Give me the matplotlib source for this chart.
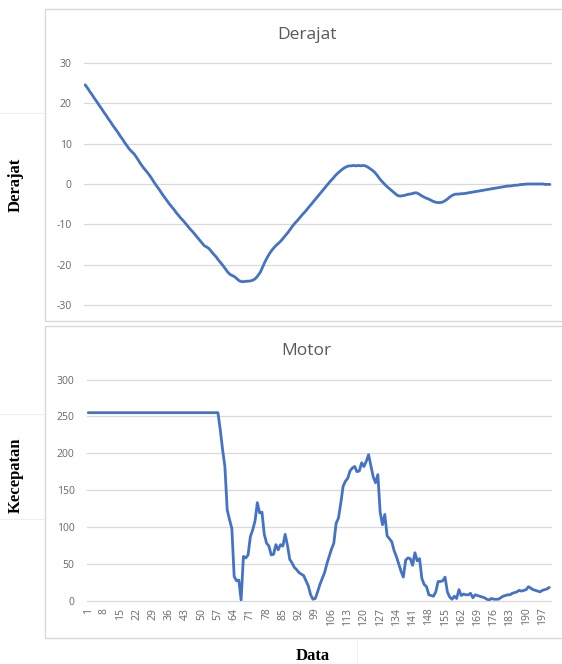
import matplotlib
matplotlib.use("Agg")
import matplotlib.pyplot as plt
from matplotlib.patches import Rectangle
from matplotlib.lines import Line2D

plt.rcParams['axes.unicode_minus'] = False

# ---------------- data ----------------
derajat = [
    24.6, 23.8, 22.9, 22.1, 21.2, 20.4, 19.5, 18.7, 17.8, 17.0,
    16.1, 15.3, 14.4, 13.6, 12.8, 11.9, 11.1, 10.2, 9.4, 8.6,
    8.0, 7.4, 6.6, 5.7, 4.8, 4.0, 3.3, 2.6, 1.8, 0.9,
    0.0, -0.8, -1.6, -2.5, -3.3, -4.1, -4.9, -5.6, -6.3, -7.1,
    -7.8, -8.5, -9.1, -9.8, -10.5, -11.2, -11.8, -12.5, -13.2, -13.9,
    -14.6, -15.3, -15.6, -16.0, -16.7, -17.4, -18.0, -18.8, -19.5, -20.2,
    -21.0, -21.8, -22.4, -22.7, -23.0, -23.5, -24.0, -24.2, -24.2, -24.1,
    -24.1, -24.0, -23.8, -23.4, -22.7, -21.9, -20.6, -19.3, -18.2, -17.2,
    -16.4, -15.7, -15.1, -14.6, -14.0, -13.3, -12.6, -11.9, -11.1, -10.3,
    -9.6, -9.0, -8.3, -7.6, -7.0, -6.3, -5.6, -4.9, -4.2, -3.5,
    -2.8, -2.1, -1.4, -0.7, 0.0, 0.7, 1.3, 2.0, 2.6, 3.1,
    3.6, 4.0, 4.3, 4.5, 4.5, 4.6, 4.5, 4.6, 4.5, 4.6,
    4.5, 4.2, 3.8, 3.4, 2.9, 2.2, 1.4, 0.7, 0.1, -0.5,
    -1.0, -1.5, -2.0, -2.5, -2.9, -3.0, -2.9, -2.8, -2.6, -2.5,
    -2.4, -2.2, -2.2, -2.5, -2.9, -3.2, -3.5, -3.7, -4.0, -4.3,
    -4.5, -4.6, -4.6, -4.5, -4.2, -3.8, -3.3, -2.9, -2.6, -2.5,
    -2.5, -2.4, -2.4, -2.3, -2.2, -2.1, -2.0, -1.9, -1.8, -1.7,
    -1.6, -1.5, -1.4, -1.3, -1.2, -1.1, -1.0, -0.9, -0.8, -0.7,
    -0.6, -0.5, -0.5, -0.4, -0.3, -0.3, -0.2, -0.1, -0.1, 0.0,
    0.0, 0.0, 0.0, 0.0, 0.0, 0.0, 0.0, -0.1, -0.1, -0.1,
]

motor = [
    255, 255, 255, 255, 255, 255, 255, 255, 255, 255,
    255, 255, 255, 255, 255, 255, 255, 255, 255, 255,
    255, 255, 255, 255, 255, 255, 255, 255, 255, 255,
    255, 255, 255, 255, 255, 255, 255, 255, 255, 255,
    255, 255, 255, 255, 255, 255, 255, 255, 255, 255,
    255, 255, 255, 255, 255, 255, 255, 232, 205, 182,
    123, 110, 98, 33, 27, 28, 1, 60, 58, 62,
    87, 96, 108, 133, 119, 120, 90, 78, 74, 62,
    63, 76, 69, 76, 74, 90, 75, 56, 51, 45,
    42, 38, 36, 34, 27, 20, 8, 2, 3, 12,
    22, 30, 38, 50, 60, 70, 78, 105, 112, 132,
    155, 162, 166, 176, 180, 182, 175, 176, 187, 182,
    189, 198, 183, 168, 160, 171, 120, 103, 117, 88,
    84, 80, 68, 60, 50, 40, 32, 55, 58, 57,
    48, 65, 54, 57, 30, 22, 19, 8, 7, 6,
    12, 26, 26, 27, 32, 12, 5, 2, 6, 3,
    15, 7, 9, 8, 8, 10, 4, 8, 7, 6,
    5, 4, 2, 1, 3, 2, 2, 2, 4, 6,
    7, 8, 8, 10, 11, 12, 14, 13, 14, 15,
    19, 17, 15, 14, 13, 12, 14, 15, 16, 18,
]

data_index = list(range(1, len(motor) + 1))

derajat_yticks = [-30, -20, -10, 0, 10, 20, 30]
motor_yticks = [0, 50, 100, 150, 200, 250, 300]
motor_xtick_labels = ["1", "8", "15", "22", "29", "36", "43", "50", "57", "64",
                      "71", "78", "85", "92", "99", "106", "113", "120", "127",
                      "134", "141", "148", "155", "162", "169", "176", "183",
                      "190", "197"]

# ---------------- style ----------------
W, H = 562, 664
LINE = "#4472C4"
GRID = "#d9d9d9"
TXT = "#666666"
SANS = ["Open Sans", "DejaVu Sans"]
SERIF = ["Liberation Serif", "DejaVu Serif"]

fig = plt.figure(figsize=(W / 100, H / 100), dpi=100)
fig.patch.set_facecolor("white")


def fx(px):
    return px / W


def fy(py):
    return 1 - py / H


# panel frames
for top, bot in [(9.5, 321), (326, 638)]:
    fig.patches.append(Rectangle((fx(45), fy(bot)), fx(600) - fx(45), fy(top) - fy(bot),
                                 transform=fig.transFigure, fill=False,
                                 edgecolor=GRID, linewidth=1.0))

# faint table borders
faint = "#eeeeee"
for (x0, y0, x1, y1) in [(0, 113, 43, 113), (0, 414, 43, 414), (0, 519, 43, 519),
                         (357, 640, 357, 664)]:
    fig.add_artist(Line2D([fx(x0), fx(x1)], [fy(y0), fy(y1)], transform=fig.transFigure,
                          color=faint, linewidth=0.8))


def style_axes(ax):
    for s in ax.spines.values():
        s.set_visible(False)
    ax.grid(axis="y", color=GRID, linewidth=0.9)
    ax.set_axisbelow(True)
    ax.tick_params(axis="both", length=0, colors=TXT, labelsize=7.5)
    for lab in ax.get_yticklabels() + ax.get_xticklabels():
        lab.set_fontfamily(SANS)
    for gl in ax.get_ygridlines():
        gl.set_clip_on(False)


# ---------- top: Derajat ----------
ax1 = fig.add_axes([fx(84), fy(305), fx(551) - fx(84), fy(63) - fy(305)])
ax1.plot(data_index, derajat, color=LINE, linewidth=2.0, solid_capstyle="round")
ax1.set_xlim(0.5, len(derajat) + 0.5)
ax1.set_ylim(-30, 30)
ax1.set_yticks(derajat_yticks)
ax1.set_xticks([])
ax1.tick_params(axis="y", pad=9)
style_axes(ax1)

fig.text(fx(307), fy(35), "Derajat", ha="center", va="center", fontsize=12.5,
         color="#595959", family=SANS)
fig.text(fx(16), fy(185), "Derajat", ha="center", va="center", rotation=90,
         fontsize=12, fontweight="bold", family=SERIF, color="black")

# ---------- bottom: Motor ----------
ax2 = fig.add_axes([fx(87), fy(600.7), fx(550.5) - fx(87), fy(379.5) - fy(600.7)])
ax2.plot(data_index, motor, color=LINE, linewidth=2.0, solid_capstyle="round")
ax2.set_xlim(0.5, len(motor) + 0.5)
ax2.set_ylim(0, 300)
ax2.set_yticks(motor_yticks)
ax2.set_xticks([int(s) for s in motor_xtick_labels])
ax2.set_xticklabels(motor_xtick_labels, rotation=90)
ax2.tick_params(axis="y", pad=9)
ax2.tick_params(axis="x", pad=5)
style_axes(ax2)

fig.text(fx(306), fy(351), "Motor", ha="center", va="center", fontsize=12.5,
         color="#595959", family=SANS)
fig.text(fx(16), fy(475), "Kecepatan", ha="center", va="center", rotation=90,
         fontsize=12, fontweight="bold", family=SERIF, color="black")
fig.text(fx(313), fy(656), "Data", ha="center", va="center",
         fontsize=12, fontweight="bold", family=SERIF, color="black")

fig.savefig("out.png", dpi=100, facecolor="white")
